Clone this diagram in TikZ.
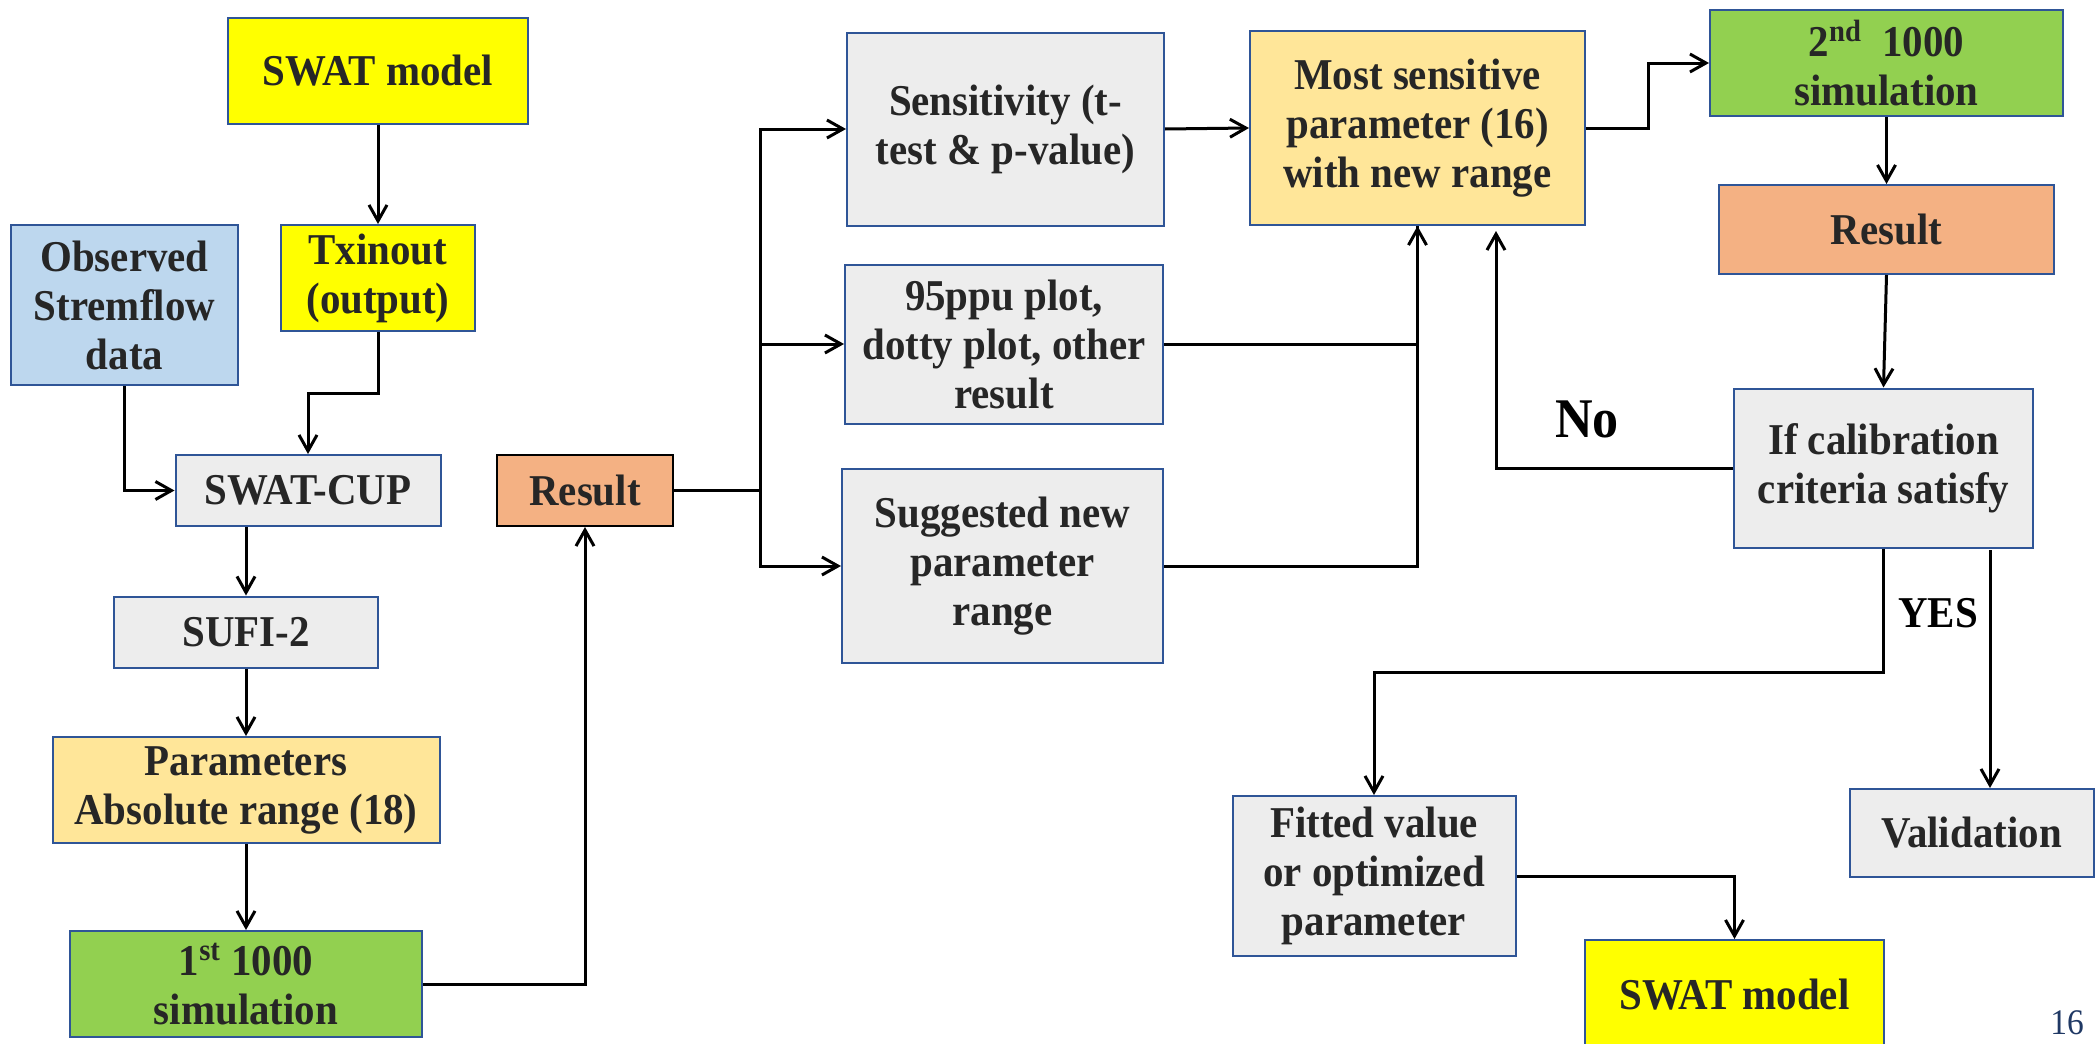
\documentclass[tikz,border=0pt]{standalone}
\usepackage{fontspec}
\setmainfont{Liberation Serif}[FakeStretch=0.93]
\usetikzlibrary{arrows.meta,calc}
\definecolor{boxline}{HTML}{2F5597}
\definecolor{swatyellow}{HTML}{FFFF00}
\definecolor{obsblue}{HTML}{BDD7EE}
\definecolor{procgray}{HTML}{EDEDED}
\definecolor{paramyellow}{HTML}{FFE699}
\definecolor{resorange}{HTML}{F4B183}
\definecolor{simgreen}{HTML}{92D050}
\definecolor{textgray}{HTML}{262626}
\definecolor{pagenum}{HTML}{1F3864}

\begin{document}
\begin{tikzpicture}[x=0.5pt, y=-0.5pt, >={Straight Barb[length=8pt,width=9pt]}]

	\tikzstyle{every node}=[font=\fontsize{22}{24.5}\selectfont\bfseries, text=textgray, align=center]
	\tikzstyle{box}=[draw=boxline, line width=1pt, inner sep=0pt]
	\tikzstyle{flow}=[line width=1.5pt]

	\useasboundingbox (0,0) rectangle (2095,1044);
	\clip (0,0) rectangle (2095,1044);
	%\draw[style=help lines, color=gray] (0,0) grid[step=100] (2095,1044);

	% first run
	\node[box, fill=swatyellow, minimum width=150pt, minimum height=53pt] (swatA) at (378,71) {SWAT model};
	\node[box, fill=swatyellow, minimum width=97pt, minimum height=53pt] (txin) at (378,278) {Txinout\\(output)};
	\node[box, fill=obsblue, minimum width=113.5pt, minimum height=80pt] (obs) at (124.5,305) {Observed\\Stremflow\\data};
	\node[box, fill=procgray, minimum width=132.5pt, minimum height=35.5pt] (cup) at (308,490.5) {SWAT-CUP};
	\node[box, draw=black, fill=resorange, minimum width=88pt, minimum height=35.5pt] (resA) at (585,490.5) {Result};
	\node[box, fill=procgray, minimum width=132pt, minimum height=35.5pt] (sufi) at (246,632) {SUFI-2};
	\node[box, fill=paramyellow, minimum width=193.5pt, minimum height=53pt] (param) at (246,790) {Parameters\\Absolute range (18)};
	\node[box, fill=simgreen, minimum width=176pt, minimum height=53pt] (simA) at (246,984) {1\textsuperscript{st} 1000\\simulation};

	% analysis of the result
	\node[box, fill=procgray, minimum width=158.5pt, minimum height=96.5pt] (sens) at (1005.5,129) {Sensitivity (t-\\test \& p-value)};
	\node[box, fill=procgray, minimum width=159pt, minimum height=79.5pt] (ppu) at (1004,344) {95ppu plot,\\dotty plot, other\\result};
	\node[box, fill=procgray, minimum width=160.5pt, minimum height=97pt] (sugg) at (1002.5,566) {Suggested new\\parameter\\range};
	\node[box, fill=paramyellow, minimum width=167.5pt, minimum height=97pt] (most) at (1417.5,128) {Most sensitive\\parameter (16)\\with new range};

	% second run
	\node[box, fill=simgreen, minimum width=176.5pt, minimum height=53pt] (simB) at (1886.5,63) {2\textsuperscript{nd}\ \ 1000\\simulation};
	\node[box, fill=resorange, minimum width=167.5pt, minimum height=44.5pt] (resB) at (1886.5,229.5) {Result};
	\node[box, fill=procgray, minimum width=149.5pt, minimum height=79.5pt] (calib) at (1883.5,468) {If calibration\\criteria satisfy};
	\node[box, fill=procgray, minimum width=141.5pt, minimum height=80pt] (fit) at (1374,876) {Fitted value\\or optimized\\parameter};
	\node[box, fill=procgray, minimum width=122pt, minimum height=44pt] (valid) at (1971.5,833) {Validation};
	\node[box, fill=swatyellow, minimum width=149.5pt, minimum height=55pt] (swatB) at (1734.5,995) {SWAT model};

	\node[font=\fontsize{28}{30}\selectfont\bfseries, text=black] (nolabel) at (1587,419) {No};
	\node[text=black] (yeslabel) at (1938,613) {YES};
	\node[font=\fontsize{18}{20}\selectfont, text=pagenum] (page) at (2067,1023) {16};

	% connectors
	\draw[flow, ->] (swatA.south) -- (txin.north);
	\draw[flow, ->] (obs.south) |- (cup.west);
	\coordinate (tx) at (308,393);
	\draw[flow, ->] (txin.south) |- (tx) -- (cup.north);
	\draw[flow, ->] (sufi.north |- cup.south) -- (sufi.north);
	\draw[flow, ->] (sufi.south) -- (param.north);
	\draw[flow, ->] (param.south) -- (simA.north);
	\draw[flow, ->] (simA.east) -| (resA.south);

	\coordinate (split) at (760,490.5);
	\draw[flow] (resA.east) -- (split);
	\draw[flow, ->] (split) |- (sens.west);
	\draw[flow, ->] (split) |- (ppu.west);
	\draw[flow, ->] (split) |- (sugg.west);
	\draw[flow, ->] (sens.east) -- (most.west);
	\draw[flow] (ppu.east) -| (most.south);
	\draw[flow, ->] (sugg.east) -| (most.south);

	\draw[flow, ->] (most.east) -- ++(62,0) |- (simB.west);
	\draw[flow, ->] (simB.south) -- (resB.north);
	\draw[flow, ->] (resB.south) -- (calib.north);
	\coordinate (back) at (1496,231);
	\draw[flow, ->] (calib.west) -| (back);
	\coordinate (yes) at (1374,672);
	\draw[flow, ->] (calib.south) |- (yes) -- (fit.north);
	\coordinate (val) at (1990,550);
	\draw[flow, ->] (val) -- (val |- valid.north);
	\draw[flow, ->] (fit.east) -| (swatB.north);

\end{tikzpicture}
\end{document}
